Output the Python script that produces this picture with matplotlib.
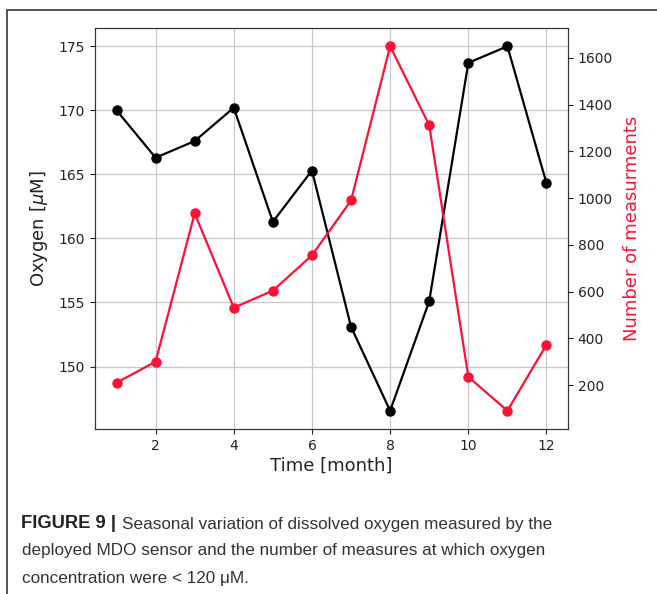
import matplotlib
matplotlib.use("Agg")
import matplotlib.pyplot as plt
from matplotlib.lines import Line2D

months = [1, 2, 3, 4, 5, 6, 7, 8, 9, 10, 11, 12]
oxygen = [170.0, 166.3, 167.6, 170.2, 161.3, 165.3, 153.1, 146.55, 155.1, 173.7, 175.0, 164.3]
counts = [210, 300, 935, 531, 604, 755, 990, 1650, 1312, 235, 90, 373]
xticks = [2, 4, 6, 8, 10, 12]

red = "#ff1037"

fig = plt.figure(figsize=(6.57, 5.94), dpi=100)
W, H = 657, 594
ax = fig.add_axes([95 / W, 1 - 429 / H, (568 - 95) / W, (429 - 28) / H])
ax.plot(months, oxygen, color="black", marker="o", ms=6.5, lw=1.6, zorder=3)
ax.set_xticks(xticks)
ax.grid(True, color="#c8c8c8", lw=0.9)
ax.set_xlabel("Time [month]", fontsize=13, color="#222222", labelpad=3)
ax.set_ylabel(r"Oxygen [$\mu$M]", fontsize=13, color="#222222", labelpad=6)
ax.tick_params(labelsize=10, colors="#222222")
for s in ax.spines.values():
    s.set_color("#333333")

ax2 = ax.twinx()
ax2.plot(months, counts, color=red, marker="o", ms=6.5, lw=1.6, zorder=3)
ax2.set_ylabel("Number of measurments", fontsize=13, color=red, labelpad=7)
ax2.tick_params(labelsize=10, colors="#222222")
for s in ax2.spines.values():
    s.set_color("#333333")

# frame lines
fig.add_artist(Line2D([7 / W, 1.0], [1 - 10 / H, 1 - 10 / H], transform=fig.transFigure, color="#555555", lw=1.4))
fig.add_artist(Line2D([7 / W, 7 / W], [1 - 10 / H, 0.0], transform=fig.transFigure, color="#555555", lw=1.4))

cap_font = ["Liberation Sans Narrow", "Liberation Sans", "DejaVu Sans"]
fs = 12.3
fig.text(21 / W, 1 - 524 / H, r"FIGURE 9 |", fontsize=13.2, fontweight="bold", family=cap_font, va="center", color="#222222")
fig.text(122 / W, 1 - 524 / H, "Seasonal variation of dissolved oxygen measured by the",
         fontsize=fs, family=cap_font, va="center", color="#333333")
fig.text(22 / W, 1 - 551 / H, "deployed MDO sensor and the number of measures at which oxygen",
         fontsize=fs, family=cap_font, va="center", color="#333333")
fig.text(22 / W, 1 - 578 / H, "concentration were < 120 \u03bcM.",
         fontsize=fs, family=cap_font, va="center", color="#333333")

fig.savefig("out.png", dpi=100)
